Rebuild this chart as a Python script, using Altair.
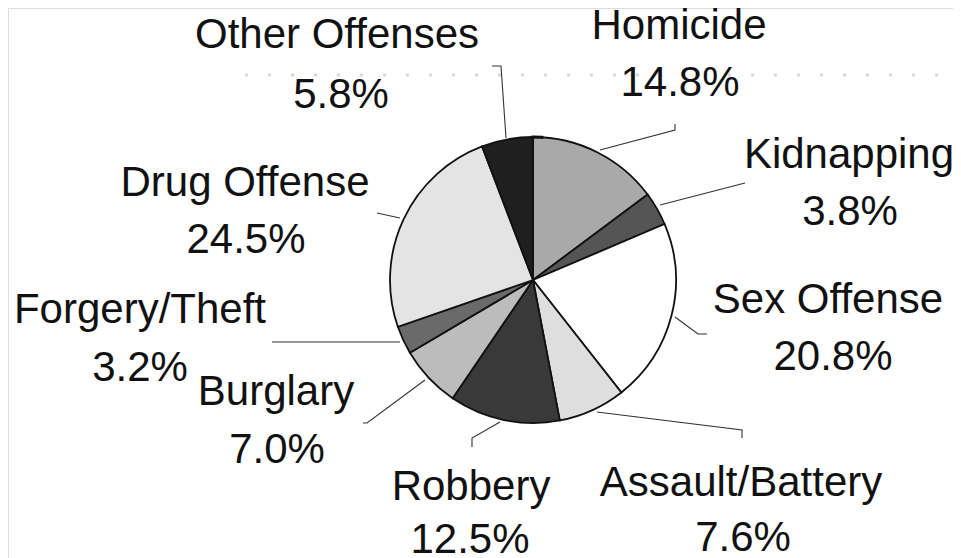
import altair as alt
import pandas as pd

# ---- data ----
categories = ["Homicide", "Kidnapping", "Sex Offense", "Assault/Battery", "Robbery",
              "Burglary", "Forgery/Theft", "Drug Offense", "Other Offenses"]
percents = [14.8, 3.8, 20.8, 7.6, 12.5, 7.0, 3.2, 24.5, 5.8]

# ---- styling / layout ----
fills = ["#a9a9a9", "#555555", "#ffffff", "#dedede", "#393939",
         "#bcbcbc", "#6a6a6a", "#e4e4e4", "#1f1f1f"]
# label centres (page pixels): name line, percent line
name_x = [679, 849, 828, 741, 471, 276, 140, 245, 337]
name_y = [26, 155, 300, 483, 487, 392, 310, 183, 35]
pct_x = [680, 850, 833, 743, 470, 277, 140, 246, 341]
pct_y = [83, 212, 357, 538, 540, 450, 368, 240, 95]
# leader lines (page pixels)
leaders = {
    "Homicide": [(600, 150), (675, 130), (675, 124)],
    "Kidnapping": [(660, 205), (745, 183)],
    "Sex Offense": [(675, 317), (698, 334), (707, 334)],
    "Assault/Battery": [(597, 412), (742, 430), (742, 438)],
    "Robbery": [(500, 422), (472, 438), (472, 447)],
    "Burglary": [(425, 380), (367, 423), (363, 423)],
    "Forgery/Theft": [(400, 342), (272, 342)],
    "Drug Offense": [(400, 218), (377, 213)],
    "Other Offenses": [(506, 138), (501, 66), (492, 66)],
}
# faint scan speckle row
speck_x = [245, 960]
speck_y = 75

W, H = 945, 550
CX, CY, R = 533, 280, 143
FONT = "Liberation Sans"
FS = 42

xs = alt.Scale(domain=[8, 8 + W])
ys = alt.Scale(domain=[8, 8 + H], reverse=True)

pie_df = pd.DataFrame({"cat": categories, "pct": percents, "idx": list(range(len(categories)))})
lab_df = pd.DataFrame({
    "cat": categories,
    "pct_text": [f"{p:.1f}%" for p in percents],
    "nx": name_x, "ny": name_y, "px": pct_x, "py": pct_y,
})
rows = []
for c, pts in leaders.items():
    for i, (x, y) in enumerate(pts):
        rows.append({"cat": c, "i": i, "x": x, "y": y})
lead_df = pd.DataFrame(rows)

speck = alt.Chart(pd.DataFrame({"x": [speck_x[0]], "x2": [speck_x[1]], "y": [speck_y]})).mark_rule(
    color="#d8d8d8", strokeWidth=3, strokeDash=[3, 20]
).encode(
    x=alt.X("x:Q", scale=xs, axis=None), x2="x2:Q",
    y=alt.Y("y:Q", scale=ys, axis=None),
)

pie = alt.Chart(pie_df).mark_arc(outerRadius=R, stroke="#111111", strokeWidth=1.8).encode(
    theta=alt.Theta("pct:Q", stack=True),
    order=alt.Order("idx:Q"),
    color=alt.Color("cat:N", scale=alt.Scale(domain=categories, range=fills), legend=None),
    x=alt.value(CX - 8),
    y=alt.value(CY - 8),
)

ring = alt.Chart(pd.DataFrame({"v": [1]})).mark_arc(
    outerRadius=R, innerRadius=R - 0.01, fillOpacity=0, stroke="#111111", strokeWidth=3
).encode(theta=alt.Theta("v:Q"), x=alt.value(CX - 8), y=alt.value(CY - 8))

lines = alt.Chart(lead_df).mark_line(color="#333333", strokeWidth=1.1).encode(
    x=alt.X("x:Q", scale=xs, axis=None),
    y=alt.Y("y:Q", scale=ys, axis=None),
    detail="cat:N",
    order="i:Q",
)

names = alt.Chart(lab_df).mark_text(font=FONT, fontSize=FS, color="#111111",
                                    baseline="middle", align="center").encode(
    x=alt.X("nx:Q", scale=xs, axis=None),
    y=alt.Y("ny:Q", scale=ys, axis=None),
    text="cat:N",
)
pcts = alt.Chart(lab_df).mark_text(font=FONT, fontSize=FS, color="#111111",
                                   baseline="middle", align="center").encode(
    x=alt.X("px:Q", scale=xs, axis=None),
    y=alt.Y("py:Q", scale=ys, axis=None),
    text="pct_text:N",
)

chart = alt.layer(speck, lines, pie, ring, names, pcts).properties(
    width=W, height=H, autosize=alt.AutoSizeParams(type="none"), padding=0
).configure_view(stroke=None).configure(background="white")

chart.save("out.html", embed_options={"renderer": "svg", "actions": False})
